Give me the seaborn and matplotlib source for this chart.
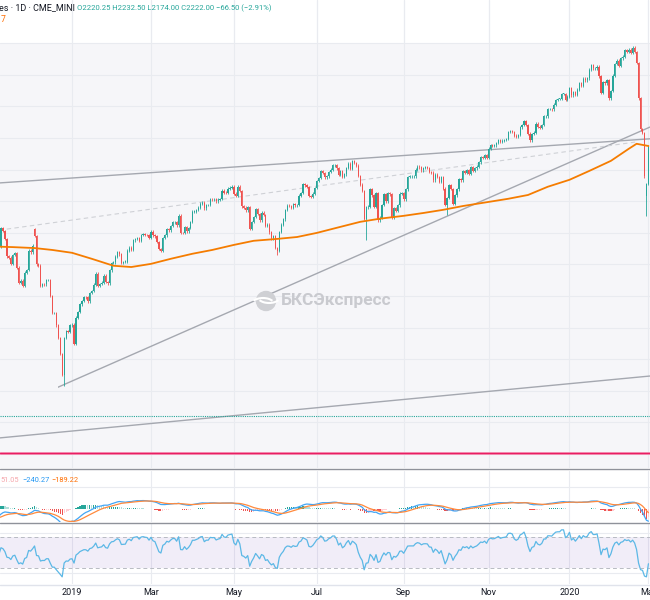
import numpy as np
import pandas as pd
import seaborn as sns
import matplotlib.pyplot as plt
from matplotlib.lines import Line2D
from matplotlib.patches import Rectangle, Ellipse, Arc

sns.set_theme(style="white")
plt.rcParams['font.family'] = ['Roboto', 'DejaVu Sans']

# daily closes, one list per month
sep18 = [2896, 2888, 2878, 2872, 2877, 2887, 2888, 2904, 2905, 2889, 2904, 2907, 2930, 2930, 2919, 2916, 2905, 2914, 2914]
oct18 = [2924, 2923, 2926, 2902, 2886, 2884, 2881, 2786, 2728, 2767, 2751, 2810, 2809, 2768, 2768, 2756, 2741, 2657, 2706,
         2659, 2641, 2682, 2712]
nov18 = [2740, 2723, 2738, 2755, 2814, 2806, 2781, 2726, 2722, 2702, 2730, 2736, 2690, 2642, 2649, 2633, 2674, 2682, 2744,
         2738, 2760]
dec18 = [2790, 2700, 2696, 2633, 2638, 2637, 2651, 2651, 2600, 2546, 2546, 2507, 2467, 2417, 2351, 2468, 2489, 2486, 2507]
jan19 = [2510, 2448, 2532, 2550, 2574, 2585, 2597, 2596, 2583, 2610, 2616, 2636, 2671, 2633, 2639, 2643, 2665, 2644, 2640,
         2681, 2704]
feb19 = [2707, 2725, 2738, 2732, 2706, 2708, 2709, 2744, 2753, 2746, 2776, 2780, 2784, 2774, 2793, 2796, 2794, 2793, 2784]
mar19 = [2804, 2792, 2789, 2771, 2749, 2743, 2784, 2792, 2811, 2808, 2822, 2833, 2833, 2824, 2855, 2800, 2799, 2818, 2805,
         2816, 2834]
apr19 = [2867, 2867, 2873, 2880, 2893, 2896, 2878, 2888, 2888, 2907, 2906, 2907, 2900, 2905, 2908, 2934, 2927, 2926, 2940,
         2943, 2946]
may19 = [2924, 2918, 2946, 2932, 2884, 2880, 2871, 2881, 2812, 2834, 2851, 2876, 2860, 2840, 2864, 2857, 2822, 2826, 2802,
         2783, 2789, 2752]
jun19 = [2744, 2803, 2826, 2843, 2873, 2886, 2885, 2879, 2891, 2887, 2889, 2918, 2926, 2954, 2950, 2945, 2917, 2914, 2924,
         2942]
jul19 = [2964, 2973, 2996, 2990, 2976, 2979, 2993, 3000, 3014, 3014, 3004, 2984, 2995, 2977, 2985, 3005, 3019, 3003, 3026,
         3021, 3013, 2980]
aug19 = [2953, 2932, 2845, 2881, 2883, 2938, 2919, 2883, 2926, 2840, 2848, 2889, 2923, 2900, 2925, 2922, 2847, 2878, 2869,
         2887, 2924, 2926]
sep19 = [2906, 2938, 2977, 2979, 2979, 2979, 3000, 3010, 3007, 2998, 3006, 3007, 3006, 2992, 2991, 2966, 2984, 2977, 2962,
         2977]
oct19 = [2940, 2888, 2910, 2952, 2939, 2893, 2919, 2938, 2970, 2966, 2996, 2990, 2998, 2986, 3007, 2996, 3004, 3010, 3023,
         3039, 3037, 3047, 3038]
nov19 = [3067, 3078, 3075, 3077, 3085, 3093, 3087, 3092, 3094, 3097, 3120, 3122, 3120, 3108, 3104, 3110, 3134, 3141, 3154,
         3141]
dec19 = [3114, 3093, 3113, 3117, 3146, 3136, 3133, 3142, 3169, 3169, 3192, 3192, 3191, 3206, 3221, 3224, 3224, 3240, 3240,
         3221, 3231]
jan20 = [3258, 3235, 3246, 3237, 3253, 3275, 3265, 3288, 3283, 3289, 3317, 3330, 3321, 3321, 3326, 3295, 3244, 3276, 3273,
         3284, 3226]
feb20 = [3249, 3298, 3334, 3345, 3328, 3352, 3358, 3379, 3374, 3380, 3370, 3386, 3373, 3338, 3226, 3128, 3116, 2979, 2954]
mar20 = [3075]

holidays = ['2018-09-03', '2018-11-22', '2018-12-05', '2018-12-25', '2019-01-01', '2019-01-21', '2019-02-18',
            '2019-04-19', '2019-05-27', '2019-07-04', '2019-09-02', '2019-11-28', '2019-12-25', '2020-01-01',
            '2020-01-20', '2020-02-17']

# candles with a gap or a long wick
open_fix = {'2018-12-03': 2812, '2020-02-28': 2916}
high_fix = {'2018-12-03': 2816}
low_fix = {'2018-12-26': 2316, '2019-06-03': 2730, '2019-08-06': 2778, '2019-10-03': 2856, '2020-02-28': 2852}

# 200-day average
ma_dates = ['2018-11-01', '2018-11-15', '2018-12-03', '2018-12-17', '2019-01-02', '2019-01-16', '2019-02-01',
            '2019-02-14', '2019-03-01', '2019-03-15', '2019-04-01', '2019-04-15', '2019-05-01', '2019-05-15',
            '2019-06-03', '2019-06-17', '2019-07-01', '2019-07-16', '2019-08-01', '2019-08-15', '2019-09-03',
            '2019-09-17', '2019-10-01', '2019-10-15', '2019-11-01', '2019-11-15', '2019-12-02', '2019-12-16',
            '2020-01-02', '2020-01-16', '2020-02-03', '2020-02-14', '2020-02-21', '2020-03-02']
ma_vals = [2757, 2755, 2752, 2746, 2737, 2718, 2696, 2692, 2702, 2718, 2734, 2746, 2762, 2775, 2781, 2787, 2800, 2816,
           2835, 2845, 2854, 2863, 2873, 2885, 2898, 2908, 2920, 2946, 2968, 2996, 3028, 3066, 3082, 3075]

# drawings: (date, price) anchors
upper_line = [('2018-11-06', 2958), ('2020-02-28', 3097)]
lower_line = [('2018-11-06', 2151), ('2020-02-28', 2346)]
rising_ray = [('2018-12-20', 2312), ('2020-02-28', 3130)]
dashed_seg = [('2018-11-01', 2806), ('2020-02-21', 3088)]
teal_level = 2221
pink_level = 2103

tick_dates = ['2019-01-02', '2019-03-01', '2019-05-01', '2019-07-01', '2019-09-03', '2019-11-01', '2020-01-02',
              '2020-03-02']
tick_labels = ['2019', 'Mar', 'May', 'Jul', 'Sep', 'Nov', '2020', 'Mar']

dates = pd.bdate_range('2018-09-04', '2020-03-02', freq='C', holidays=holidays)
closes = np.array(sep18 + oct18 + nov18 + dec18 + jan19 + feb19 + mar19 + apr19 + may19 + jun19 + jul19 + aug19
                  + sep19 + oct19 + nov19 + dec19 + jan20 + feb20 + mar20, dtype=float)
assert len(dates) == len(closes), (len(dates), len(closes))
pos = pd.Series(np.arange(len(dates)), index=dates)
P = lambda d: pos[pd.Timestamp(d)]

opens = np.r_[closes[0], closes[:-1]]
for d, v in open_fix.items():
    opens[P(d)] = v
highs = np.maximum(opens, closes) + 4
lows = np.minimum(opens, closes) - 4
for d, v in high_fix.items():
    highs[P(d)] = v
for d, v in low_fix.items():
    lows[P(d)] = v

# indicators
cs = pd.Series(closes)
macd = cs.ewm(span=12, adjust=False).mean() - cs.ewm(span=26, adjust=False).mean()
signal = macd.ewm(span=9, adjust=False).mean()
hist = macd - signal
delta = cs.diff().fillna(0)
gain = delta.clip(lower=0).ewm(alpha=1 / 14, adjust=False).mean()
loss = (-delta.clip(upper=0)).ewm(alpha=1 / 14, adjust=False).mean()
rsi = 100 - 100 / (1 + gain / loss)

UP, DOWN = '#26a69a', '#ef5350'
GRID = '#e9ebf0'
x = np.arange(len(closes))
p0 = P('2019-01-02')
xlim = (p0 - 36.5, p0 + 292.8)
ticks = [P(d) for d in tick_dates]

fig = plt.figure(figsize=(6.5, 6.0), dpi=100)
ax = fig.add_axes([0, 1 - 468 / 600, 1, 468 / 600])
axm = fig.add_axes([0, 1 - 522 / 600, 1, 51 / 600])
axr = fig.add_axes([0, 1 - 584 / 600, 1, 61 / 600])

for a in (ax, axm, axr):
    a.set_xlim(*xlim)
    a.set_facecolor('white')
    for s in a.spines.values():
        s.set_visible(False)
    a.set_yticks([])
    for t in ticks:
        a.axvline(t, color=GRID, lw=0.8, zorder=0)

# ---- price panel
ylo, yhi = 2056, 3537
ax.set_ylim(ylo, yhi)
ax.axhspan(ylo, 3400, color='#f6f6f9', zorder=0, lw=0)
for t in ticks:
    ax.axvline(t, color=GRID, lw=0.8, zorder=0.2)
for lvl in range(2100, 3500, 100):
    ax.axhline(lvl, color=GRID, lw=0.8, zorder=0.3)
ax.set_xticks([])

cols = np.where(closes >= opens, UP, DOWN)
ax.vlines(x, lows, highs, colors=cols, lw=0.6, zorder=3)
body = np.maximum(np.abs(closes - opens), 1.5)
ax.bar(x, body, bottom=np.minimum(opens, closes), width=0.62, color=cols, lw=0, zorder=3)

sns.lineplot(x=[P(d) for d in ma_dates], y=ma_vals, ax=ax, color='#f57c00', lw=1.3, zorder=4)
ax.set_xlabel('')
ax.set_ylabel('')

line_kw = dict(color='#a5a8b0', lw=1.0, zorder=2)
ax.axline((P(upper_line[0][0]), upper_line[0][1]), (P(upper_line[1][0]), upper_line[1][1]), **line_kw)
ax.axline((P(lower_line[0][0]), lower_line[0][1]), (P(lower_line[1][0]), lower_line[1][1]), **line_kw)
ray = ax.axline((P(rising_ray[0][0]), rising_ray[0][1]), (P(rising_ray[1][0]), rising_ray[1][1]), **line_kw)
ray.set_clip_path(Rectangle((P(rising_ray[0][0]), ylo), 1000, yhi - ylo, transform=ax.transData))
ax.plot([P(dashed_seg[0][0]), P(dashed_seg[1][0])], [dashed_seg[0][1], dashed_seg[1][1]],
        color='#cfd1d6', lw=0.8, ls=(0, (4, 3)), zorder=2)
ax.axhline(teal_level, color='#26a69a', lw=0.8, ls=(0, (1, 1)), zorder=2)
ax.axhline(pink_level, color='#f48fb1', lw=2.0, zorder=2)
ax.axhline(pink_level, color='#e91e63', lw=0.9, zorder=2)

# watermark
fig.text(281 / 650, 1 - 301 / 600, 'БКСЭкспресс', fontsize=12.5, fontweight='bold', color='#c9cacf',
         ha='left', va='center', zorder=1)
fig.add_artist(Ellipse((266 / 650, 1 - 301 / 600), 19 / 650, 19 / 600, color='#cfd0d4', zorder=1))
fig.add_artist(Arc((263 / 650, 1 - 304 / 600), 22 / 650, 12 / 600, theta1=20, theta2=160, color='white', lw=1.5))
fig.add_artist(Arc((269 / 650, 1 - 297 / 600), 22 / 650, 12 / 600, theta1=200, theta2=340, color='white', lw=1.5))

# header
fig.text(-0.002, 1 - 8 / 600, 'es · 1D · CME_MINI', fontsize=6.5, color='#131722', va='center')
fig.text(77 / 650, 1 - 8 / 600, 'O2220.25 H2232.50 L2174.00 C2222.00 −66.50 (−2.91%)', fontsize=5.5,
         color='#26a69a', va='center')
fig.text(0.001, 1 - 20 / 600, '7', fontsize=6.2, color='#ff6d00', va='center')

# ---- MACD panel
axm.set_ylim(-65, 190)
axm.axhline(110, color=GRID, lw=0.8, zorder=0)
prev = hist.shift(1).fillna(0)
hcols = np.where(hist >= 0, np.where(hist >= prev, '#26a69a', '#b2dfdb'),
                 np.where(hist < prev, '#ef5350', '#ffcdd2'))
axm.bar(x, hist, width=0.62, color=hcols, lw=0, zorder=2)
sns.lineplot(x=x, y=macd.values, ax=axm, color='#42a5f5', lw=0.9, zorder=3)
sns.lineplot(x=x, y=signal.values, ax=axm, color='#ff8a3d', lw=0.9, zorder=3)
axm.set_xticks([])
axm.set_xlabel('')
axm.set_ylabel('')
fig.text(0, 1 - 480 / 600, '51.05', fontsize=5.3, color='#f6a5ab', va='center')
fig.text(22 / 650, 1 - 480 / 600, '−240.27', fontsize=5.3, color='#2196f3', va='center')
fig.text(51 / 650, 1 - 480 / 600, '−189.22', fontsize=5.3, color='#ff6d00', va='center')

# ---- RSI panel
axr.set_ylim(10, 87.5)
axr.axhspan(30, 70, color='#7e57c2', alpha=0.1, lw=0, zorder=1)
for lvl in (75, 24):
    axr.axhline(lvl, color=GRID, lw=0.8, zorder=0)
for lvl in (70, 30):
    axr.axhline(lvl, color='#b8bbc3', lw=0.7, ls=(0, (4, 3)), zorder=2)
sns.lineplot(x=x, y=rsi.values, ax=axr, color='#5cb8e6', lw=0.9, zorder=3)
axr.set_xlabel('')
axr.set_ylabel('')
axr.set_xticks(ticks)
axr.set_xticklabels(tick_labels)
axr.tick_params(axis='x', length=0, pad=3, labelsize=6.5, labelcolor='#131722')

# panel separators
for yy, c in ((469, '#8f929a'), (522.5, '#8f929a'), (584.5, '#e0e3eb')):
    fig.add_artist(Line2D([0, 1], [1 - yy / 600] * 2, color=c, lw=1.0))

fig.savefig('out.png', dpi=100)
